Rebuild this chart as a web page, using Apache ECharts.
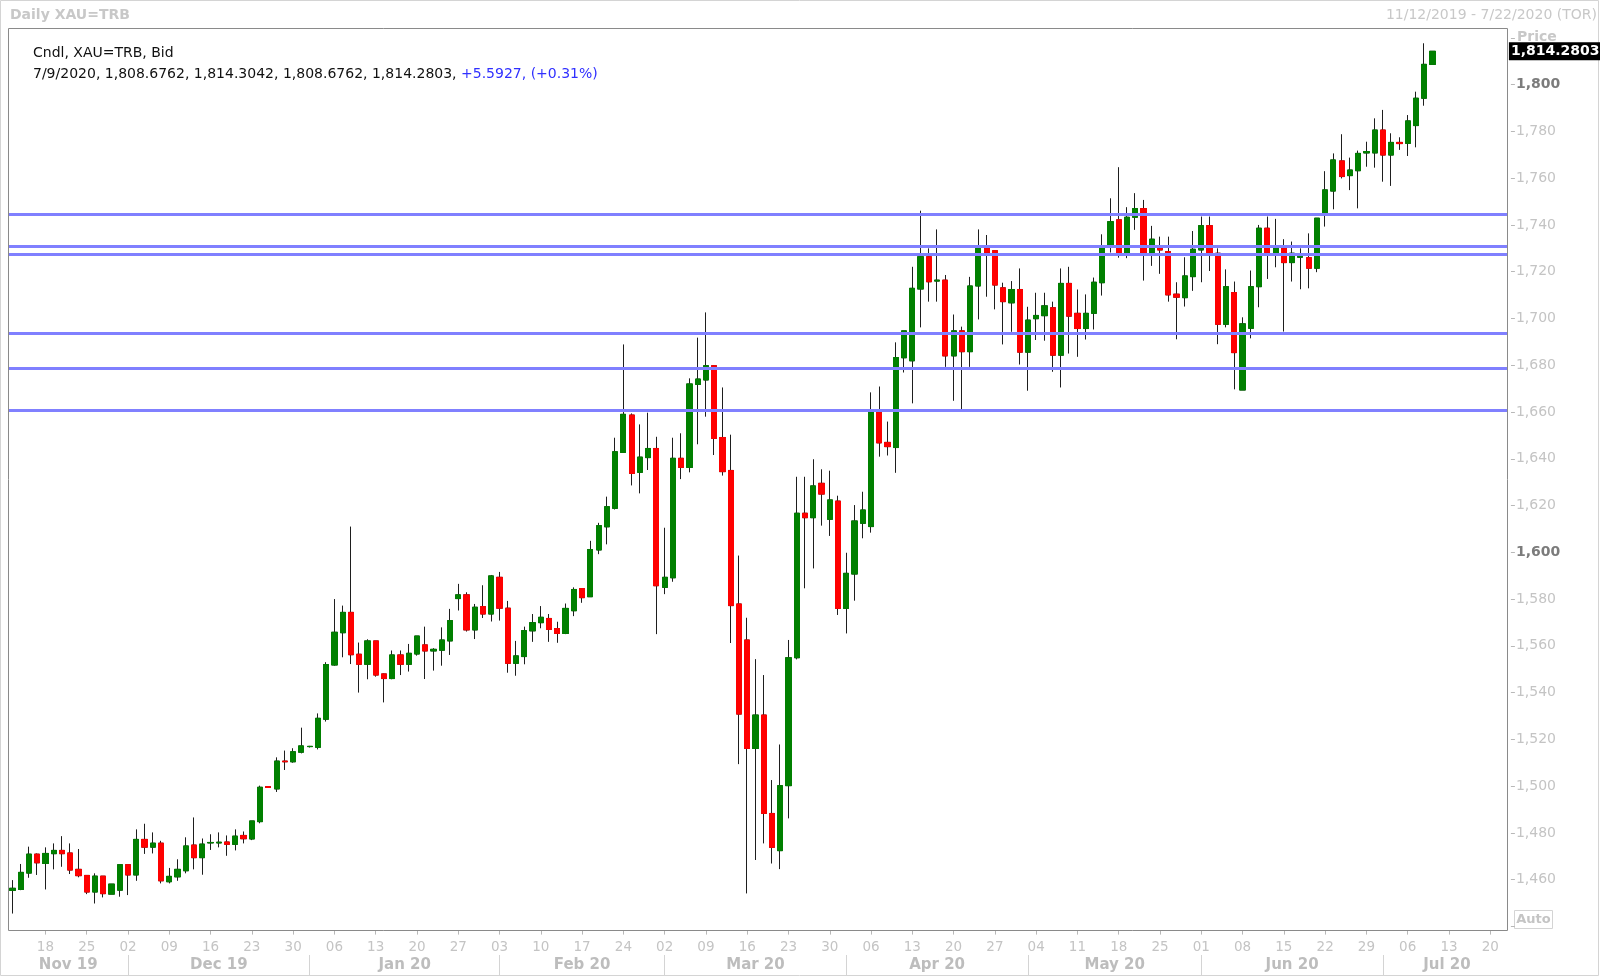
<!DOCTYPE html>
<html><head><meta charset="utf-8">
<script src="https://cdn.jsdelivr.net/npm/echarts@6/dist/echarts.min.js"></script>
<style>html,body{margin:0;padding:0;background:#fff}#c{width:1600px;height:978px}</style>
</head><body><div id="c"></div>
<script>
// ---------- DATA ----------
const startDate = '2019-11-12';
const slotCount = 182; // weekdays 11/12/2019 .. 7/22/2020
const openP = [1455.4,1455.8,1462.8,1470.9,1466.9,1471.1,1472.5,1471.4,1464.4,1461.8,
1454.7,1461.5,1453.8,1455.5,1466.4,1462.0,1477.2,1473.9,1475.6,1459.1,
1461.2,1463.8,1474.8,1469.4,1475.7,1475.7,1476.1,1475.1,1478.9,1477.4,
1484.8,1499.8,1498.8,1510.7,1510.4,1514.5,1516.9,1516.6,1528.6,1551.8,
1565.6,1574.3,1556.4,1552.1,1562.1,1548.0,1546.0,1556.1,1552.1,1556.5,
1560.4,1557.8,1558.1,1562.1,1580.2,1581.8,1566.8,1576.8,1573.6,1589.3,
1576.1,1552.5,1555.4,1566.4,1569.9,1571.7,1567.4,1565.3,1575.0,1584.5,
1581.0,1601.0,1610.9,1618.8,1642.7,1658.7,1634.2,1640.5,1644.4,1585.0,
1589.1,1640.2,1636.3,1671.8,1673.7,1679.8,1649.1,1635.0,1577.9,1562.5,
1516.1,1530.4,1488.3,1472.4,1500.2,1554.9,1616.7,1614.8,1629.5,1614.1,
1621.9,1576.0,1590.7,1612.4,1611.0,1659.8,1647.0,1644.8,1683.2,1681.9,
1712.6,1726.4,1716.0,1716.4,1684.0,1694.7,1685.8,1713.9,1730.0,1729.0,
1713.1,1706.7,1712.4,1685.6,1699.9,1701.2,1704.6,1684.3,1715.0,1702.2,
1695.7,1702.2,1715.3,1730.7,1742.2,1727.9,1743.3,1747.0,1728.2,1730.0,
1728.6,1710.4,1708.9,1717.9,1729.3,1739.7,1727.9,1697.5,1711.1,1669.4,
1695.8,1713.6,1738.6,1727.9,1730.0,1723.9,1726.2,1726.0,1721.5,1745.0,
1754.5,1767.4,1761.1,1763.2,1770.8,1770.8,1780.6,1769.9,1775.3,1774.9,
1782.5,1794.2,1808.6762];
const highP = [1459.8,1466.7,1474.1,1471.2,1473.8,1475.5,1478.6,1475.5,1473.1,1461.8,
1462.7,1461.5,1458.1,1466.4,1466.4,1481.5,1483.9,1480.2,1476.6,1465.0,
1468.7,1478.1,1486.6,1477.6,1479.4,1480.2,1478.9,1481.5,1480.6,1485.1,
1500.2,1499.9,1512.3,1515.2,1516.2,1525.0,1517.2,1531.1,1553.0,1580.0,
1577.2,1611.0,1561.4,1562.8,1562.1,1548.2,1558.0,1558.0,1560.8,1564.2,
1568.2,1559.0,1567.9,1575.8,1586.5,1582.9,1577.9,1585.9,1590.3,1591.6,
1579.2,1562.1,1568.2,1573.6,1577.0,1573.6,1570.3,1578.1,1585.0,1584.5,
1604.9,1612.6,1623.8,1649.0,1688.9,1659.4,1654.7,1659.7,1649.4,1610.5,
1649.0,1650.9,1674.4,1691.8,1702.6,1680.1,1670.5,1650.3,1598.6,1572.0,
1554.3,1547.5,1502.6,1517.8,1562.5,1632.3,1632.3,1639.8,1635.5,1634.9,
1624.2,1599.8,1620.2,1625.9,1668.4,1670.9,1655.9,1689.8,1694.7,1722.1,
1746.1,1730.0,1738.1,1718.6,1701.7,1696.5,1717.8,1738.1,1735.7,1729.0,
1715.3,1716.0,1721.4,1705.0,1711.0,1711.0,1707.2,1721.4,1722.1,1712.4,
1710.3,1717.5,1736.0,1751.4,1764.7,1747.6,1753.6,1750.7,1739.6,1735.0,
1735.0,1715.5,1726.2,1737.4,1743.6,1743.6,1730.0,1721.0,1715.8,1700.5,
1720.5,1740.0,1743.6,1742.6,1733.9,1732.9,1730.0,1736.4,1742.9,1763.0,
1770.6,1778.8,1768.8,1771.8,1775.6,1785.6,1789.2,1779.2,1777.5,1787.0,
1797.0,1817.7,1814.3042];
const lowP = [1445.5,1455.5,1460.8,1462.0,1455.8,1464.4,1465.5,1462.4,1461.0,1453.8,
1449.8,1452.4,1453.8,1452.7,1453.4,1459.5,1471.0,1471.2,1458.4,1458.4,
1459.5,1462.7,1464.4,1462.1,1472.7,1473.8,1470.2,1472.5,1475.5,1476.9,
1484.1,1499.3,1497.5,1506.9,1510.0,1514.0,1516.5,1515.7,1527.6,1551.5,
1555.1,1552.2,1540.0,1545.7,1546.8,1535.8,1545.7,1547.5,1549.0,1555.8,
1545.8,1549.4,1551.5,1556.1,1575.1,1566.1,1562.9,1571.9,1570.4,1570.8,
1548.5,1547.2,1552.1,1561.7,1567.5,1561.7,1561.3,1565.0,1572.7,1578.4,
1581.0,1599.2,1603.4,1618.3,1642.7,1628.6,1625.2,1635.2,1565.0,1582.1,
1587.4,1631.3,1634.2,1646.2,1658.0,1641.6,1632.8,1561.2,1509.4,1454.1,
1468.4,1475.5,1466.9,1464.5,1486.2,1554.2,1584.6,1593.1,1611.4,1607.0,
1573.2,1565.3,1579.3,1606.0,1608.4,1640.9,1641.4,1634.0,1676.9,1663.7,
1696.2,1707.2,1707.2,1679.3,1664.8,1660.8,1679.3,1699.6,1709.3,1703.9,
1688.9,1694.3,1680.3,1669.1,1690.8,1690.5,1677.2,1670.5,1685.0,1683.6,
1691.0,1695.3,1709.8,1728.2,1726.0,1725.8,1737.9,1716.2,1722.5,1719.1,
1707.2,1691.1,1705.1,1711.8,1715.5,1720.3,1689.0,1696.2,1669.7,1669.4,
1691.5,1704.8,1716.9,1721.9,1694.4,1715.8,1712.5,1712.9,1719.8,1739.3,
1746.7,1759.9,1754.9,1747.1,1764.9,1764.5,1758.5,1756.7,1772.1,1769.5,
1773.2,1791.0,1808.6762];
const closeP = [1456.3,1463.1,1470.9,1467.2,1471.2,1472.5,1471.1,1464.1,1461.7,1454.7,
1461.5,1454.0,1458.1,1466.4,1462.0,1477.2,1473.9,1475.6,1459.5,1461.4,
1464.4,1474.4,1469.4,1475.2,1475.9,1476.0,1475.1,1478.6,1477.5,1485.1,
1499.5,1499.4,1510.7,1510.4,1514.7,1517.2,1517.0,1529.0,1552.0,1565.8,
1574.3,1556.2,1552.1,1562.1,1547.5,1546.0,1556.1,1552.1,1556.8,1564.2,
1557.8,1558.5,1562.5,1570.8,1581.8,1566.8,1576.5,1573.6,1589.9,1576.1,
1552.5,1555.7,1566.5,1569.9,1572.2,1567.0,1565.3,1576.0,1584.1,1580.6,
1601.2,1611.4,1619.5,1643.0,1659.0,1633.7,1640.7,1644.4,1585.7,1589.3,
1640.2,1636.3,1672.0,1674.1,1679.8,1648.7,1634.5,1577.2,1530.8,1516.1,
1530.4,1488.3,1473.8,1500.2,1554.9,1616.7,1614.8,1628.4,1624.9,1622.4,
1576.0,1591.0,1613.4,1618.1,1659.9,1646.8,1645.2,1683.3,1694.7,1712.9,
1726.4,1715.7,1716.4,1684.0,1694.7,1685.8,1713.9,1730.0,1728.1,1714.3,
1707.2,1712.4,1685.6,1699.3,1701.3,1705.4,1684.3,1715.0,1701.0,1695.7,
1702.2,1715.5,1730.7,1741.4,1727.9,1743.3,1747.0,1728.2,1733.9,1729.3,
1710.1,1709.1,1718.2,1729.6,1739.7,1727.9,1697.5,1713.6,1685.4,1697.7,
1713.6,1738.6,1727.9,1730.0,1723.9,1727.9,1726.5,1721.5,1742.9,1755.0,
1767.8,1760.7,1763.5,1770.6,1771.4,1780.6,1769.9,1775.3,1774.8,1784.5,
1794.2,1808.6876,1814.2803];
const levels = [1744.4, 1730.8, 1727.4, 1693.8, 1678.8, 1660.6];
const yMin = 1440, yMax = 1820, yStep = 20;
const boldTicks = [1800, 1600];
const monthNames = ['Jan','Feb','Mar','Apr','May','Jun','Jul','Aug','Sep','Oct','Nov','Dec'];

// ---------- CATEGORIES ----------
const dates = [];
{
  let t = Date.parse(startDate + 'T00:00:00Z');
  while (dates.length < slotCount) {
    const wd = new Date(t).getUTCDay();
    if (wd !== 0 && wd !== 6) dates.push(new Date(t).toISOString().slice(0, 10));
    t += 86400000;
  }
}
const isMonday = dates.map(s => new Date(s + 'T00:00:00Z').getUTCDay() === 1);
const monthStart = dates.map((s, i) => i > 0 && s.slice(0, 7) !== dates[i - 1].slice(0, 7));
const starts = [];
monthStart.forEach((v, i) => { if (v) starts.push(i); });
const bounds = [-0.5].concat(starts, [slotCount - 0.5]);
const monthLabel = {};
for (let k = 0; k < bounds.length - 1; k++) {
  const mid = (bounds[k] + bounds[k + 1]) / 2;
  const idx = Math.round(mid);
  const shift = mid - idx; // in slots
  const firstIdx = Math.max(0, Math.ceil(bounds[k]));
  const dd = dates[firstIdx];
  const name = monthNames[+dd.slice(5, 7) - 1] + ' ' + dd.slice(2, 4);
  let tag = 'm0';
  if (shift < -0.4) tag = 'l4'; else if (shift < -0.1) tag = 'l2';
  else if (shift > 0.4) tag = 'r4'; else if (shift > 0.1) tag = 'r2';
  monthLabel[idx] = '{' + tag + '|' + name + '}';
}

const candleFull = openP.map((o, i) => [o, closeP[i], lowP[i], highP[i]]);
const candleBody = openP.map((o, i) => [o, closeP[i], Math.min(o, closeP[i]), Math.max(o, closeP[i])]);

const last = openP.length - 1;
const fmt4 = v => v.toLocaleString('en-US', {minimumFractionDigits: 4, maximumFractionDigits: 4});
const chg = closeP[last] - closeP[last - 1];
const pct = chg / closeP[last - 1] * 100;
const ld = dates[last];
const legendDate = (+ld.slice(5, 7)) + '/' + (+ld.slice(8, 10)) + '/' + ld.slice(0, 4);
const legendBlack = legendDate + ', ' + fmt4(openP[last]) + ', ' + fmt4(highP[last]) + ', ' + fmt4(lowP[last]) + ', ' + fmt4(closeP[last]) + ', ';
const legendBlue = (chg >= 0 ? '+' : '') + chg.toFixed(4) + ', (' + (pct >= 0 ? '+' : '') + pct.toFixed(2) + '%)';

// ---------- CHART ----------
const FF = 'DejaVu Sans';
const GREEN = '#008000', RED = '#ff0000', WICK = '#1e1e1e';
const chart = echarts.init(document.getElementById('c'), null, {renderer: 'canvas'});
const mStyle = {fontFamily: FF, fontSize: 15, fontWeight: 'bold', color: '#bdbdbd'};
chart.setOption({
  animation: false,
  backgroundColor: '#ffffff',
  grid: {left: 8.3, top: 37.9, width: 1502.6, height: 888.5, show: false},
  xAxis: [{
    type: 'category', data: dates, boundaryGap: true, position: 'bottom', offset: 4.2,
    axisLine: {show: false},
    axisTick: {show: true, length: 4, alignWithLabel: true, interval: (i) => isMonday[i], lineStyle: {color: '#b8b8b8'}},
    axisLabel: {interval: (i) => isMonday[i], formatter: v => v.slice(8, 10), color: '#c4c4c4', fontFamily: FF, fontSize: 13.5, margin: 9.5},
    splitLine: {show: false}
  }, {
    type: 'category', data: dates, boundaryGap: true, position: 'bottom', offset: 28.6,
    axisLine: {show: false},
    axisTick: {show: true, length: 21, alignWithLabel: true, interval: (i) => monthStart[i], lineStyle: {color: '#d4d4d4'}},
    axisLabel: {interval: (i) => monthLabel[i] !== undefined, formatter: (v, i) => monthLabel[i] || '', margin: 2.5,
      rich: {
        m0: mStyle,
        l2: Object.assign({padding: [0, 4, 0, 0]}, mStyle),
        l4: Object.assign({padding: [0, 8, 0, 0]}, mStyle),
        r2: Object.assign({padding: [0, 0, 0, 4]}, mStyle),
        r4: Object.assign({padding: [0, 0, 0, 8]}, mStyle)
      }},
    splitLine: {show: false}
  }],
  yAxis: {
    type: 'value', position: 'right', min: yMin, max: yMax, interval: yStep, scale: true,
    axisLine: {show: false},
    axisTick: {show: true, length: 4, lineStyle: {color: '#b8b8b8'}},
    splitLine: {show: false},
    axisLabel: {
      margin: 5,
      formatter: v => (v <= yMin || v >= yMax) ? '' : (boldTicks.indexOf(v) >= 0 ? '{b|' + v.toLocaleString('en-US') + '}' : '{n|' + v.toLocaleString('en-US') + '}'),
      rich: {
        b: {fontFamily: FF, fontSize: 14, fontWeight: 'bold', color: '#7c7c7c'},
        n: {fontFamily: FF, fontSize: 14, color: '#c4c4c4'}
      }
    }
  },
  series: [{
    type: 'candlestick', name: 'wick', data: candleFull, barWidth: 5.7, silent: true,
    itemStyle: {color: WICK, color0: WICK, borderColor: WICK, borderColor0: WICK, borderWidth: 1},
    markLine: {
      silent: true, symbol: ['none', 'none'], animation: false,
      label: {show: false},
      lineStyle: {color: '#8080ff', width: 3, type: 'solid', opacity: 1},
      emphasis: {disabled: true},
      data: levels.map(v => ({yAxis: v}))
    }
  }, {
    type: 'candlestick', name: 'body', data: candleBody, barWidth: 5.7, silent: true,
    itemStyle: {color: GREEN, color0: RED, borderColor: GREEN, borderColor0: RED, borderWidth: 1},
    markLine: {
      silent: true, symbol: ['none', 'none'], animation: false, z: 20,
      lineStyle: {color: 'rgba(255,255,255,0)', width: 0.01, type: 'solid'},
      emphasis: {disabled: true},
      label: {show: true, position: 'end', distance: -2, formatter: () => fmt4(closeP[last]),
        backgroundColor: '#000000', color: '#ffffff', fontFamily: FF, fontSize: 14, fontWeight: 'bold', padding: [2, 3, 2, 2]},
      data: [{yAxis: closeP[last]}]
    }
  }],
  graphic: {elements: [
    {type: 'rect', shape: {x: 0.5, y: 0.5, width: 1598, height: 975}, style: {fill: 'none', stroke: '#d4d4d4', lineWidth: 1}, z: 0, silent: true},
    {type: 'text', x: 10, y: 15, style: {text: 'Daily XAU=TRB', font: 'bold 14px "DejaVu Sans"', fill: '#c8c8c8', verticalAlign: 'middle'}, z: 0},
    {type: 'text', x: 1597, y: 15, style: {text: '11/12/2019 - 7/22/2020 (TOR)', font: '14px "DejaVu Sans"', fill: '#c8c8c8', align: 'right', verticalAlign: 'middle'}, z: 0},
    {type: 'rect', shape: {x: 8.5, y: 28.5, width: 1499, height: 902}, style: {fill: 'none', stroke: '#8a8a8a', lineWidth: 1}, z: 50, silent: true},
    {type: 'rect', shape: {x: 1508, y: 180, width: 3, height: 260}, style: {fill: '#ffffff'}, z: 100, silent: true},
    {type: 'text', x: 33, y: 53, style: {text: 'Cndl, XAU=TRB, Bid', font: '14px "DejaVu Sans"', fill: '#111', verticalAlign: 'middle'}, z: 0},
    {type: 'text', x: 33, y: 74.5, style: {text: '{k|' + legendBlack + '}{u|' + legendBlue + '}', verticalAlign: 'middle',
      rich: {k: {fontFamily: FF, fontSize: 14, fill: '#111'}, u: {fontFamily: FF, fontSize: 14, fill: '#3030ff'}}}, z: 0},
    {type: 'text', x: 1517, y: 37, style: {text: 'Price', font: 'bold 14px "DejaVu Sans"', fill: '#c8c8c8', verticalAlign: 'middle'}, z: 0},
    {type: 'text', x: 1517, y: 56, style: {text: 'USD', font: 'bold 14px "DejaVu Sans"', fill: '#c8c8c8', verticalAlign: 'middle'}, z: 0},
    {type: 'rect', shape: {x: 1514.5, y: 910.5, width: 38, height: 18}, style: {fill: '#fff', stroke: '#d4d4d4', lineWidth: 1}, z: 0},
    {type: 'text', x: 1533.5, y: 920, style: {text: 'Auto', font: 'bold 13px "DejaVu Sans"', fill: '#c4c4c4', align: 'center', verticalAlign: 'middle'}, z: 1}
  ]}
});
</script></body></html>
